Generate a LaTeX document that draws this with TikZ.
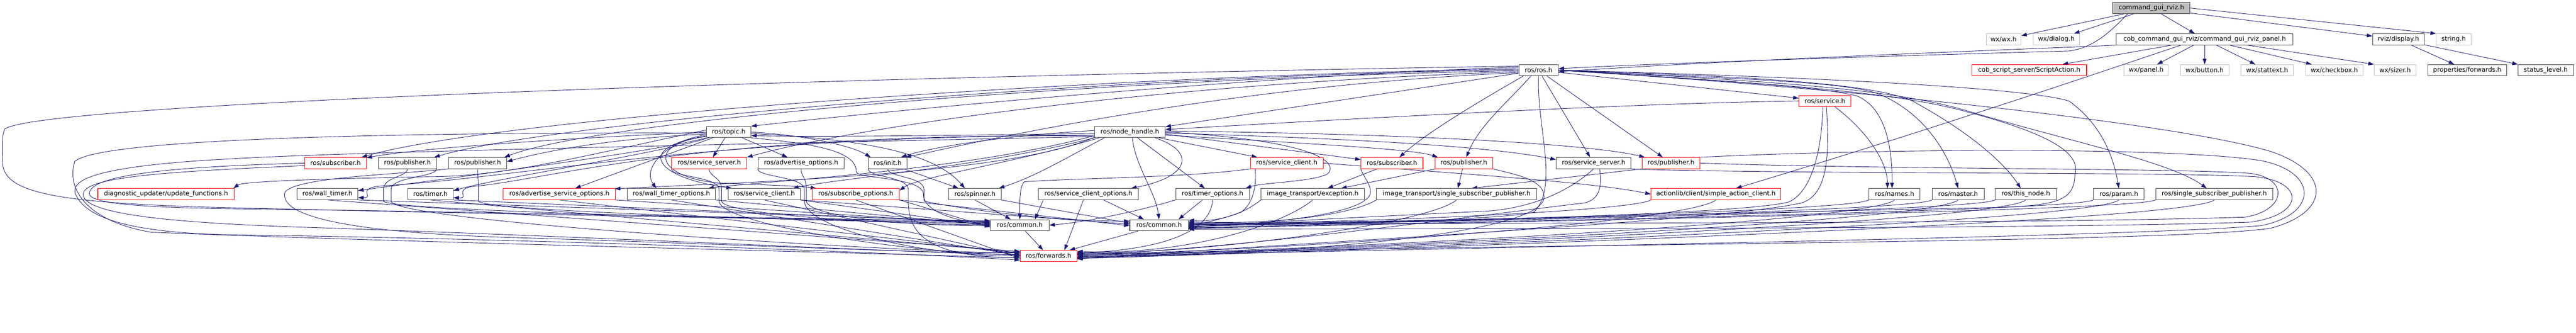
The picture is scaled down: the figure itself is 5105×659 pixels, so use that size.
\documentclass[tikz,border=0pt]{standalone}
\usepackage{fontspec}
\setmainfont{DejaVu Sans}
\usetikzlibrary{arrows.meta,calc}
\pgfdeclarelayer{bg}
\pgfsetlayers{bg,main}
\definecolor{ecol}{HTML}{191970}
\definecolor{gborder}{HTML}{BFBFBF}
\definecolor{bborder}{HTML}{404040}
\newcommand\viagap[5]{\draw[ed] (#1) .. controls ($(#1)+(0,16)$) and (#2,350) .. (#2,375) -- (#2,398) .. controls (#2,#3) and ($(#4)+(-200,#5)$) .. ($(#4)+(0,#5)$);}
\begin{document}
\begin{tikzpicture}[x=1pt,y=-1pt,
  box/.style={rectangle, minimum height=22pt, inner sep=0pt, line width=1.1pt, fill=white, text=black, font=\fontsize{12.6}{15}\selectfont},
  nb/.style={box, draw=bborder},
  nr/.style={box, draw=red},
  ng/.style={box, draw=gborder},
  nroot/.style={box, draw=bborder, fill=gborder},
  ed/.style={draw=ecol, line width=0.9pt, -{Triangle[length=11pt,width=7.5pt]}}
]
\useasboundingbox (0,0) rectangle (5105,659);
% ---------------- nodes
\node[nroot, minimum width=153pt] (root) at (4263.5,16) {command\_gui\_rviz.h};
\node[ng, minimum width=69pt] (wxwx) at (3970.5,78) {wx/wx.h};
\node[ng, minimum width=92pt] (wxdialog) at (4075,78) {wx/dialog.h};
\node[nb, minimum width=350pt] (panel) at (4369,78) {cob\_command\_gui\_rviz/command\_gui\_rviz\_panel.h};
\node[nb, minimum width=102pt] (display) at (4753,78) {rviz/display.h};
\node[ng, minimum width=69pt] (stringh) at (4862.5,78) {string.h};
\node[nb, minimum width=78pt] (rosros) at (3049,139) {ros/ros.h};
\node[nr, minimum width=227pt] (script) at (4021.5,139) {cob\_script\_server/ScriptAction.h};
\node[ng, minimum width=88pt] (wxpanel) at (4253,139) {wx/panel.h};
\node[ng, minimum width=96pt] (wxbutton) at (4369,139) {wx/button.h};
\node[ng, minimum width=104pt] (wxstattext) at (4493,139) {wx/stattext.h};
\node[ng, minimum width=114pt] (wxcheckbox) at (4626,139) {wx/checkbox.h};
\node[ng, minimum width=83pt] (wxsizer) at (4746.5,139) {wx/sizer.h};
\node[nb, minimum width=157pt] (propfwd) at (4889.5,139) {properties/forwards.h};
\node[nb, minimum width=110pt] (status) at (5045,139) {status\_level.h};
\node[nr, minimum width=103pt] (service) at (3616.5,200) {ros/service.h};
\node[nb, minimum width=88pt] (topic) at (1444,261.5) {ros/topic.h};
\node[nb, minimum width=140pt] (nh) at (2239,261.5) {ros/node\_handle.h};
% row 5
\node[nr, minimum width=122pt] (subA) at (665,323) {ros/subscriber.h};
\node[nb, minimum width=115pt] (pubA) at (807.5,323) {ros/publisher.h};
\node[nb, minimum width=115pt] (pubB) at (946.5,323) {ros/publisher.h};
\node[nr, minimum width=149pt] (ssA) at (1405.5,323) {ros/service\_server.h};
\node[nb, minimum width=171pt] (advopt) at (1587.5,323) {ros/advertise\_options.h};
\node[nb, minimum width=76pt] (init) at (1759,323) {ros/init.h};
\node[nr, minimum width=144pt] (scA) at (2550,323) {ros/service\_client.h};
\node[nr, minimum width=123pt] (subB) at (2758.5,323) {ros/subscriber.h};
\node[nr, minimum width=114pt] (pubC) at (2901,323) {ros/publisher.h};
\node[nb, minimum width=148pt] (ssB) at (3158,323) {ros/service\_server.h};
\node[nr, minimum width=115pt] (pubD) at (3311.5,323) {ros/publisher.h};
% row 6
\node[nr, minimum width=270pt] (diag) at (329,384.5) {diagnostic\_updater/update\_functions.h};
\node[nb, minimum width=120pt] (wtimer) at (649,384.5) {ros/wall\_timer.h};
\node[nb, minimum width=90pt] (timer) at (853,384.5) {ros/timer.h};
\node[nr, minimum width=223pt] (advsrv) at (1108.5,384.5) {ros/advertise\_service\_options.h};
\node[nb, minimum width=175pt] (wtopt) at (1330.5,384.5) {ros/wall\_timer\_options.h};
\node[nb, minimum width=143pt] (scB) at (1514.5,384.5) {ros/service\_client.h};
\node[nr, minimum width=172pt] (subopt) at (1696,384.5) {ros/subscribe\_options.h};
\node[nb, minimum width=104pt] (spinner) at (1932,384.5) {ros/spinner.h};
\node[nb, minimum width=198pt] (scopt) at (2157,384.5) {ros/service\_client\_options.h};
\node[nb, minimum width=146pt] (topt) at (2403,384.5) {ros/timer\_options.h};
\node[nb, minimum width=205pt] (itexc) at (2601.5,384.5) {image\_transport/exception.h};
\node[nb, minimum width=317pt] (itssp) at (2886.5,384.5) {image\_transport/single\_subscriber\_publisher.h};
\node[nr, minimum width=257pt] (sac) at (3400.5,384.5) {actionlib/client/simple\_action\_client.h};
\node[nb, minimum width=101pt] (names) at (3754.5,384.5) {ros/names.h};
\node[nb, minimum width=103pt] (master) at (3880.5,384.5) {ros/master.h};
\node[nb, minimum width=121pt] (thisnode) at (4014.5,384.5) {ros/this\_node.h};
\node[nb, minimum width=100pt] (param) at (4199,384.5) {ros/param.h};
\node[nb, minimum width=232pt] (rssp) at (4388,384.5) {ros/single\_subscriber\_publisher.h};
\node[nb, minimum width=116pt] (commonA) at (2021,446) {ros/common.h};
\node[nb, minimum width=116pt] (commonB) at (2297,446) {ros/common.h};
\node[nr, minimum width=112pt] (fwd) at (2078,507) {ros/forwards.h};

\begin{pgfonlayer}{bg}
% ---------------- top
\draw[ed] (root) -- (wxwx);
\draw[ed] (root) -- (wxdialog);
\draw[ed] (root) -- (panel);
\draw[ed] (root) -- (display);
\draw[ed] (root.east) -- (stringh.north west);
\draw[ed] ($(root.south west)+(30,0)$) .. controls (4185,60) and (4150,95) .. (4100,101) .. controls (3700,112) and (3300,125) .. ($(rosros.east)+(0,-3)$);
\draw[ed] (panel.south west) .. controls (3950,100) and (3450,118) .. ($(rosros.east)+(0,3)$);
\draw[ed] (panel) -- (script);
\draw[ed] ($(panel.south)+(-47,0)$) .. controls (4215,125) and (3850,250) .. ($(sac.north)+(40,0)$);
\draw[ed] (panel) -- (wxpanel);
\draw[ed] (panel) -- (wxbutton);
\draw[ed] (panel) -- (wxstattext);
\draw[ed] ($(panel.south)+(50,0)$) -- ($(wxcheckbox.north)+(-45,0)$);
\draw[ed] ($(panel.south)+(85,0)$) -- (wxsizer.north west);
\draw[ed] (display) -- (propfwd);
\draw[ed] (display) -- (status);
% ---------------- ros.h
\draw[ed] ($(rosros.west)+(0,-6)$) .. controls (2500,150) and (1800,215) .. (topic.north east);
\draw[ed] (rosros) -- (nh);
\draw[ed] (rosros) -- (service);
\draw[ed] (rosros) -- (ssB);
\draw[ed] (rosros) -- (pubD);
\draw[ed] ($(rosros.south)+(-30,0)$) .. controls (2950,190) and (2830,260) .. ($(subB.north)+(15,0)$);
\draw[ed] ($(rosros.south)+(-15,0)$) .. controls (2990,200) and (2930,250) .. ($(pubC.north)+(5,0)$);
\draw[ed] (rosros.south) .. controls (3045,250) and (3090,370) .. (3040,420) .. controls (2990,435) and (2600,445) .. ($(commonB.east)+(0,6)$);
\draw[ed] ($(rosros.west)+(0,-3)$) .. controls (2200,150) and (1000,230) .. ($(subA.north east)+(-10,0)$);
\draw[ed] ($(rosros.west)+(0,-1)$) .. controls (2200,150) and (1100,240) .. ($(pubA.north east)+(-5,0)$);
\draw[ed] ($(rosros.west)+(0,1)$) .. controls (2200,155) and (1200,235) .. ($(pubB.north east)+(-5,0)$);
\draw[ed] ($(rosros.west)+(0,3)$) .. controls (2300,165) and (1700,250) .. (ssA.north east);
\draw[ed] ($(rosros.west)+(0,5)$) .. controls (2400,170) and (1900,290) .. ($(init.north east)+(-3,0)$);
\draw[ed] ($(rosros.west)+(0,-8)$) .. controls (1800,150) and (100,200) .. (10,255) .. controls (2,270) and (5,300) .. (5,320) .. controls (5,380) and (100,400) .. (400,410) .. controls (1000,425) and (1700,437) .. ($(commonA.west)+(0,-9)$);
\draw[ed] (rosros.east) .. controls (3400,160) and (3600,170) .. (3680,190) .. controls (3740,215) and (3750,300) .. ($(names.north)+(-5,0)$);
\draw[ed] (rosros.east) .. controls (3400,155) and (3650,160) .. (3720,185) .. controls (3810,220) and (3860,300) .. (master.north);
\draw[ed] (rosros.east) .. controls (3400,150) and (3700,160) .. (3790,200) .. controls (3900,260) and (3970,320) .. ($(thisnode.north)+(-10,0)$);
\draw[ed] (rosros.east) .. controls (3500,150) and (4000,170) .. (4100,200) .. controls (4170,250) and (4190,320) .. (param.north);
\draw[ed] (rosros.east) .. controls (3500,160) and (3750,175) .. (3900,220) .. controls (4100,280) and (4300,320) .. ($(rssp.north)+(-15,0)$);
\draw[ed] (rosros.east) .. controls (3500,165) and (3750,180) .. (3900,222) .. controls (4050,262) and (4125,300) .. (4112,345) .. controls (4110,400) and (4080,410) .. (3900,412) .. controls (3300,425) and (2700,442) .. ($(commonB.east)+(0,-4)$);
\draw[ed] (rosros.east) .. controls (3600,170) and (4300,240) .. (4500,300) .. controls (4620,340) and (4620,420) .. (4500,452) .. controls (4300,482) and (3000,482) .. ($(fwd.east)+(0,-2)$);
% ---------------- service.h
\draw[ed] (service.west) .. controls (3200,205) and (2600,240) .. ($(nh.east)+(0,-5)$);
\draw[ed] ($(service.south)+(20,0)$) .. controls (3700,260) and (3740,320) .. ($(names.north)+(-14,0)$);
\draw[ed] ($(service.south)+(-4,0)$) .. controls (3610,300) and (3590,380) .. (3545,400) .. controls (3450,425) and (2800,440) .. ($(commonB.east)+(0,2)$);
\draw[ed] ($(service.south)+(3,0)$) .. controls (3625,300) and (3625,385) .. (3570,402) .. controls (3400,440) and (2500,485) .. ($(fwd.east)+(0,6)$);
% ---------------- topic.h
\draw[ed] (topic) -- (ssA);
\draw[ed] (topic) -- (advopt);
\draw[ed] (topic) -- (advsrv);
\draw[ed] (topic.west) .. controls (1200,270) and (850,290) .. ($(subA.north east)+(0,1)$);
\draw[ed] ($(topic.west)+(0,4)$) .. controls (1200,275) and (1080,300) .. ($(pubB.east)+(0,-3)$);
\draw[ed] (topic.south west) .. controls (1300,300) and (950,345) .. ($(wtimer.east)+(0,-7)$);
\draw[ed] ($(topic.south west)+(5,0)$) .. controls (1300,305) and (1000,350) .. ($(timer.east)+(0,-7)$);
\draw[ed] ($(topic.west)+(0,6)$) .. controls (1330,275) and (1270,330) .. ($(wtopt.north)+(-30,0)$);
\draw[ed] ($(topic.west)+(0,8)$) .. controls (1260,290) and (1290,350) .. ($(scB.north west)+(8,0)$);
\draw[ed] ($(topic.west)+(0,9)$) .. controls (1280,285) and (1300,350) .. (1420,362) .. controls (1500,366) and (1580,368) .. ($(subopt.north west)+(8,0)$);
\draw[ed] ($(topic.west)+(0,-4)$) .. controls (1150,310) and (1000,350) .. (850,350) .. controls (600,355) and (480,360) .. ($(diag.north east)+(-2,0)$);
\draw[ed] (topic.east) .. controls (1600,268) and (1690,290) .. ($(init.north west)+(5,0)$);
\draw[ed] ($(topic.east)+(0,3)$) .. controls (1700,275) and (1850,300) .. ($(spinner.north)+(-20,0)$);
\draw[ed] (topic.south east) .. controls (1620,285) and (1697,300) .. (1697,340) .. controls (1697,355) and (1830,350) .. (1830,385) .. controls (1830,420) and (1900,440) .. ($(commonA.west)+(0,-3)$);
\draw[ed] ($(topic.west)+(0,2)$) .. controls (900,262) and (200,270) .. (148,320) .. controls (130,380) and (180,440) .. (300,460) .. controls (800,480) and (1700,500) .. ($(fwd.west)+(0,4)$);
% ---------------- node_handle.h
\draw[ed] ($(nh.west)+(0,3)$) .. controls (1900,268) and (1600,272) .. ($(topic.east)+(0,7)$);
\draw[ed] (nh) -- (scA);
\draw[ed] ($(nh.east)+(0,4)$) -- ($(subB.west)+(0,-7)$);
\draw[ed] ($(nh.east)+(0,6)$) .. controls (2600,285) and (2800,295) .. ($(pubC.north west)+(6,0)$);
\draw[ed] ($(nh.east)+(0,2)$) .. controls (2700,275) and (2950,290) .. ($(ssB.west)+(0,-7)$);
\draw[ed] ($(nh.east)+(0,-2)$) .. controls (2800,265) and (3150,285) .. ($(pubD.north west)+(6,0)$);
\draw[ed] (nh) -- (topt);
\draw[ed] (nh.east) .. controls (2640,280) and (2650,330) .. (2630,345) .. controls (2600,360) and (2500,362) .. ($(topt.north east)+(-8,0)$);
\draw[ed] ($(nh.south)+(50,0)$) .. controls (2370,300) and (2360,350) .. ($(scopt.north east)+(-15,0)$);
\draw[ed] ($(nh.south)+(5,0)$) .. controls (2250,330) and (2290,380) .. (commonB.north);
\draw[ed] ($(nh.south west)+(20,0)$) .. controls (2100,320) and (2050,350) .. ($(spinner.north east)+(-5,0)$);
\draw[ed] ($(nh.west)+(0,-3)$) .. controls (2000,268) and (1850,290) .. ($(init.north east)+(-12,0)$);
\draw[ed] ($(nh.south west)+(10,0)$) .. controls (2000,325) and (1820,350) .. ($(subopt.east)+(0,-7)$);
\draw[ed] (nh.south west) .. controls (1950,330) and (1650,355) .. ($(scB.north east)+(-15,0)$);
\draw[ed] ($(nh.south west)+(-5,-3)$) .. controls (1900,340) and (1500,360) .. ($(wtopt.north east)+(-15,0)$);
\draw[ed] ($(nh.south west)+(0,-1)$) .. controls (2000,345) and (1500,360) .. ($(advsrv.north east)+(-2,1)$);
\draw[ed] ($(nh.west)+(0,6)$) .. controls (1400,270) and (1050,350) .. (760,368) .. controls (700,372) and (745,392) .. ($(wtimer.east)+(0,7)$);
\draw[ed] ($(nh.west)+(0,8)$) .. controls (1400,262) and (1100,352) .. (950,368) .. controls (890,372) and (935,393) .. ($(timer.east)+(0,7)$);
\draw[ed] ($(nh.west)+(0,9)$) .. controls (1500,285) and (700,300) .. (450,315) .. controls (170,330) and (140,360) .. (150,385) .. controls (170,430) and (250,460) .. (450,465) .. controls (1000,472) and (1700,497) .. ($(fwd.west)+(0,8)$);
% ---------------- row 5 left, through gaps
\viagap{pubA.south}{760}{420}{commonA.west}{-6}
\viagap{pubA.south east}{775}{440}{fwd.west}{-6}
\viagap{pubB.south}{948}{420}{commonA.west}{-4}
\viagap{ssA.south}{1430}{425}{commonA.west}{-1}
\viagap{ssA.south west}{1425}{445}{fwd.west}{-3}
\viagap{advopt.south}{1598}{425}{commonA.west}{1}
\viagap{advopt.south west}{1594}{450}{fwd.west}{0}
\viagap{init.south}{1831}{400}{commonB.west}{-8}
\viagap{init.south west}{1800}{450}{fwd.west}{3}
\draw[ed] (subA.west) .. controls (350,330) and (180,345) .. (177,383) .. controls (175,405) and (300,412) .. (500,414) .. controls (1000,420) and (1700,436) .. ($(commonA.west)+(0,-8)$);
\draw[ed] ($(subA.west)+(0,5)$) .. controls (330,340) and (165,350) .. (165,385) .. controls (165,420) and (300,440) .. (600,450) .. controls (1200,470) and (1800,500) .. ($(fwd.west)+(0,-2)$);
\draw[ed] (pubB.south west) .. controls (800,345) and (590,350) .. (565,380) .. controls (550,430) and (700,460) .. (1000,470) .. controls (1500,485) and (1900,505) .. ($(fwd.west)+(0,-8)$);
\draw[ed] (init) -- (spinner);
% ---------------- row 6 left
\foreach \s/\a/\b in {wtimer/-7/-9, timer/-5/-7, advsrv/-2/-5, wtopt/0/-1, scB/2/1, subopt/4/5}{
  \draw[ed] (\s.south east) -- ($(commonA.west)+(0,\a)$);
  \draw[ed] (\s.south) -- ($(fwd.west)+(0,\b)$);
}
\draw[ed] (spinner.south) -- ($(commonA.north)+(-18,0)$);
\draw[ed] (spinner.south east) -- ($(commonB.west)+(0,-4)$);
\draw[ed] (subopt.south east) -- ($(commonB.west)+(0,1)$);
\draw[ed] (scB.south east) -- ($(commonB.west)+(0,-2)$);
\draw[ed] ($(scopt.south west)+(10,0)$) -- ($(commonA.north)+(30,0)$);
\draw[ed] ($(scopt.south)+(30,0)$) -- ($(commonB.north)+(-30,0)$);
\draw[ed] ($(scopt.south)+(-10,0)$) -- ($(fwd.north east)+(-25,0)$);
\draw[ed] ($(topt.south)+(-20,0)$) -- ($(commonB.north east)+(-20,0)$);
\draw[ed] (topt.south west) .. controls (2250,420) and (2150,440) .. (commonA.east);
\draw[ed] (topt.south) .. controls (2400,460) and (2300,495) .. ($(fwd.east)+(0,-6)$);
\draw[ed] (commonA) -- (fwd);
\draw[ed] (commonB) -- (fwd);
% ---------------- row 5 right
\draw[ed] (scA.south west) .. controls (2350,352) and (2150,352) .. (2030,360) .. controls (2020,370) and (2021,400) .. (commonA.north);
\draw[ed] ($(scA.south west)+(10,0)$) .. controls (2490,360) and (2487,400) .. (2460,420) .. controls (2420,435) and (2380,443) .. ($(commonB.east)+(0,1)$);
\draw[ed] (scA.east) .. controls (2900,345) and (3150,360) .. (sac.west);
\draw[ed] (subB) -- (itexc);
\draw[ed] (pubC) -- (itexc);
\draw[ed] (pubC) -- (itssp);
\draw[ed] (pubD.south west) -- ($(itssp.north)+(30,0)$);
\draw[ed] (subB.south west) .. controls (2705,355) and (2716,365) .. (2716,380) .. controls (2716,425) and (2500,445) .. ($(commonB.east)+(0,3)$);
\draw[ed] (pubC.south east) .. controls (3000,345) and (3060,355) .. (3060,390) .. controls (3060,470) and (2500,505) .. ($(fwd.east)+(0,4)$);
\draw[ed] (ssB.south) .. controls (3120,370) and (3050,410) .. (2950,418) .. controls (2700,430) and (2500,440) .. ($(commonB.east)+(0,4)$);
\draw[ed] ($(ssB.south)+(12,0)$) .. controls (3175,370) and (3170,395) .. (3140,402) .. controls (2900,430) and (2400,500) .. ($(fwd.east)+(0,-4)$);
\draw[ed] (pubD.north east) .. controls (3700,295) and (4300,290) .. (4480,318) .. controls (4595,340) and (4595,425) .. (4480,447) .. controls (4200,470) and (3000,488) .. ($(fwd.east)+(0,2)$);
\draw[ed] (ssB.south east) .. controls (3500,345) and (4300,340) .. (4470,350) .. controls (4568,360) and (4568,425) .. (4460,440) .. controls (4000,455) and (2800,452) .. ($(commonB.east)+(0,8)$);
\draw[ed] (pubD.east) .. controls (3700,335) and (4300,333) .. (4455,343) .. controls (4535,350) and (4535,415) .. (4450,430) .. controls (4000,445) and (2800,440) .. ($(commonB.east)+(0,-1)$);
% ---------------- row 6 right
\draw[ed] (itexc.south west) .. controls (2470,420) and (2420,440) .. ($(commonB.east)+(0,-10)$);
\draw[ed] (itexc.south) .. controls (2541,446) and (2350,506) .. ($(fwd.east)+(0,-9)$);
\foreach \s/\a/\b in {itssp/-7/-7, sac/-5/-5, names/-3/-3, master/-2/-1, thisnode/0/1, param/5/3, rssp/7/5}{
  \draw[ed] (\s.south west) .. controls ($(\s.south west)+(-40,25)$) and (2550,446) .. ($(commonB.east)+(0,\a)$);
  \draw[ed] (\s.south) .. controls ($(\s.south)+(-60,50)$) and (2350,506) .. ($(fwd.east)+(0,\b)$);
}
\end{pgfonlayer}
\end{tikzpicture}
\end{document}
